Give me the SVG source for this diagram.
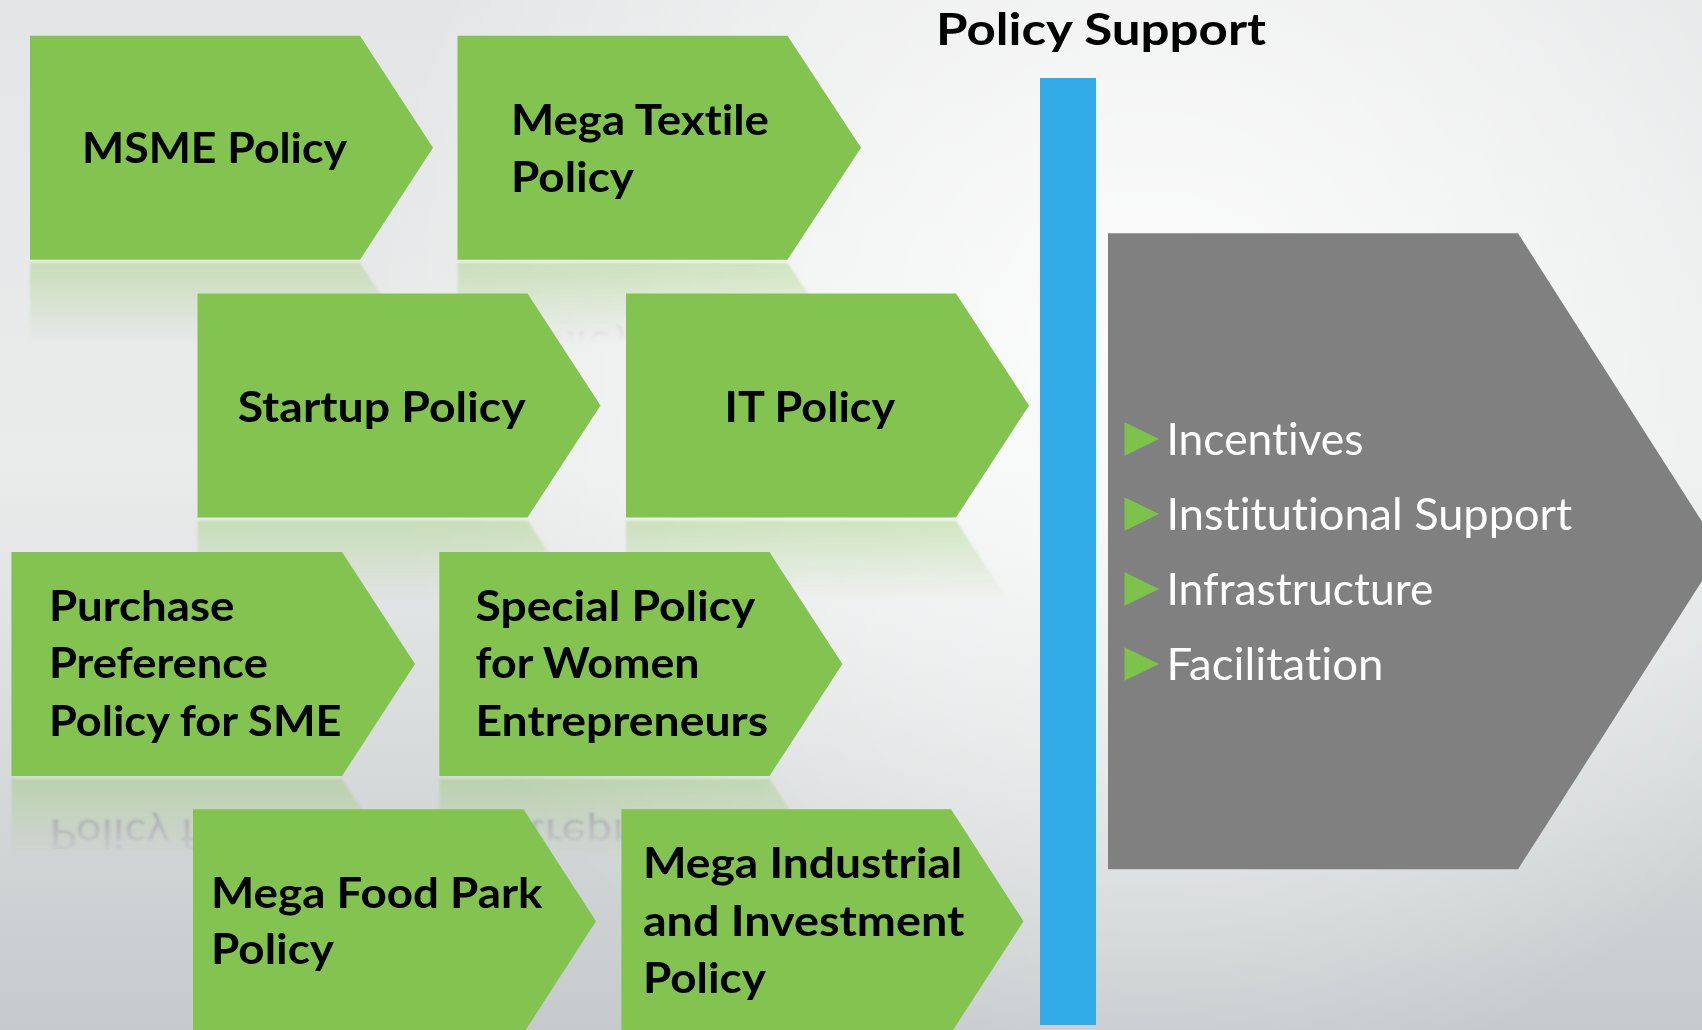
<svg xmlns="http://www.w3.org/2000/svg" xmlns:xlink="http://www.w3.org/1999/xlink" width="1702" height="1030" viewBox="0 0 1702 1030">
  <defs>
    <style>
      text { font-variant-ligatures: none; font-feature-settings: "liga" 0, "clig" 0; }
      .chev { fill: #83C350; }
      .lbl { font-family: Lato, "Liberation Sans", "DejaVu Sans", sans-serif; font-weight: 700; font-size: 42px; fill: #000000; }
      .title { font-family: Lato, "Liberation Sans", "DejaVu Sans", sans-serif; font-weight: 700; font-size: 44px; fill: #000000; }
      .item { font-family: Lato, "Liberation Sans", "DejaVu Sans", sans-serif; font-weight: 400; font-size: 44px; fill: #FFFFFF; }
      .bullet { fill: #7DC24B; }
    </style>
    <linearGradient id="bgLin" x1="0" y1="0" x2="0" y2="1">
      <stop offset="0" stop-color="#e4e5e6"/>
      <stop offset="0.45" stop-color="#eaecec"/>
      <stop offset="1" stop-color="#c6cacc"/>
    </linearGradient>
    <radialGradient id="bgRad" gradientUnits="userSpaceOnUse" cx="1150" cy="330" r="780">
      <stop offset="0" stop-color="#ffffff" stop-opacity="0.85"/>
      <stop offset="0.55" stop-color="#ffffff" stop-opacity="0.45"/>
      <stop offset="1" stop-color="#ffffff" stop-opacity="0"/>
    </radialGradient>
    <linearGradient id="fadeGrad" x1="0" y1="0" x2="0" y2="1">
      <stop offset="0" stop-color="#ffffff" stop-opacity="0.32"/>
      <stop offset="0.2" stop-color="#ffffff" stop-opacity="0.14"/>
      <stop offset="0.36" stop-color="#ffffff" stop-opacity="0"/>
    </linearGradient>
    <mask id="fade" maskContentUnits="objectBoundingBox">
      <rect x="0" y="0" width="1" height="1" fill="url(#fadeGrad)"/>
    </mask>
    <filter id="soft" x="-0.02" y="-0.02" width="1.04" height="1.04">
      <feGaussianBlur stdDeviation="0.8"/>
    </filter>
  </defs>

  <!-- background -->
  <rect x="0" y="0" width="1702" height="1030" fill="url(#bgLin)"/>
  <rect x="0" y="0" width="1702" height="1030" fill="url(#bgRad)"/>

  <!-- reflections -->
  <g id="reflections" filter="url(#soft)">
    <g mask="url(#fade)"><use xlink:href="#n-msme" href="#n-msme" transform="translate(0,522.4) scale(1,-1)"/></g>
    <g mask="url(#fade)"><use xlink:href="#n-textile" href="#n-textile" transform="translate(0,522.4) scale(1,-1)"/></g>
    <g mask="url(#fade)"><use xlink:href="#n-startup" href="#n-startup" transform="translate(0,1038) scale(1,-1)"/></g>
    <g mask="url(#fade)"><use xlink:href="#n-it" href="#n-it" transform="translate(0,1038) scale(1,-1)"/></g>
    <g mask="url(#fade)"><use xlink:href="#n-purchase" href="#n-purchase" transform="translate(0,1555) scale(1,-1)"/></g>
    <g mask="url(#fade)"><use xlink:href="#n-women" href="#n-women" transform="translate(0,1555) scale(1,-1)"/></g>
  </g>

  <!-- title -->
  <g id="title">
    <text class="title" x="936" y="45" textLength="330" lengthAdjust="spacingAndGlyphs">Policy Support</text>
  </g>

  <!-- row 1 -->
  <g id="n-msme">
    <polygon class="chev" points="30,35.7 360,35.7 433,147.7 360,259.7 30,259.7"/>
    <text class="lbl" x="82" y="163.3" textLength="265" lengthAdjust="spacingAndGlyphs">MSME Policy</text>
  </g>
  <g id="n-textile">
    <polygon class="chev" points="457.5,35.7 787.5,35.7 861,147.7 787.5,259.7 457.5,259.7"/>
    <text class="lbl" x="511" y="135" textLength="258" lengthAdjust="spacingAndGlyphs">Mega Textile</text>
    <text class="lbl" x="511" y="191.7" textLength="123" lengthAdjust="spacingAndGlyphs">Policy</text>
  </g>

  <!-- row 2 -->
  <g id="n-startup">
    <polygon class="chev" points="197.5,293.5 527.5,293.5 600.5,405.5 527.5,517.5 197.5,517.5"/>
    <text class="lbl" x="237.7" y="422" textLength="288" lengthAdjust="spacingAndGlyphs">Startup Policy</text>
  </g>
  <g id="n-it">
    <polygon class="chev" points="626,293.5 956,293.5 1029,405.5 956,517.5 626,517.5"/>
    <text class="lbl" x="724.6" y="422" textLength="170.7" lengthAdjust="spacingAndGlyphs">IT Policy</text>
  </g>

  <!-- row 3 -->
  <g id="n-purchase">
    <polygon class="chev" points="11.4,552 342,552 415,664 342,776 11.4,776"/>
    <text class="lbl" x="48.9" y="621" textLength="185.5" lengthAdjust="spacingAndGlyphs">Purchase</text>
    <text class="lbl" x="48.9" y="678.2" textLength="219" lengthAdjust="spacingAndGlyphs">Preference</text>
    <text class="lbl" x="48.9" y="736" textLength="292.6" lengthAdjust="spacingAndGlyphs">Policy for SME</text>
  </g>
  <g id="n-women">
    <polygon class="chev" points="439.3,552 769.5,552 842.4,664 769.5,776 439.3,776"/>
    <text class="lbl" x="475.5" y="621" textLength="280" lengthAdjust="spacingAndGlyphs">Special Policy</text>
    <text class="lbl" x="475.5" y="678.2" textLength="224" lengthAdjust="spacingAndGlyphs">for Women</text>
    <text class="lbl" x="475.5" y="736" textLength="292.6" lengthAdjust="spacingAndGlyphs">Entrepreneurs</text>
  </g>

  <!-- row 4 -->
  <g id="n-foodpark">
    <polygon class="chev" points="193,809.3 523.5,809.3 596,921.3 523.5,1033.3 193,1033.3"/>
    <text class="lbl" x="211" y="907.7" textLength="331.5" lengthAdjust="spacingAndGlyphs">Mega Food Park</text>
    <text class="lbl" x="211" y="964.3" textLength="123" lengthAdjust="spacingAndGlyphs">Policy</text>
  </g>
  <g id="n-industrial">
    <polygon class="chev" points="621.4,809.3 951,809.3 1023.5,921.3 951,1033.3 621.4,1033.3"/>
    <text class="lbl" x="642.9" y="878.3" textLength="319.4" lengthAdjust="spacingAndGlyphs">Mega Industrial</text>
    <text class="lbl" x="642.9" y="935.7" textLength="321.4" lengthAdjust="spacingAndGlyphs">and Investment</text>
    <text class="lbl" x="642.9" y="993.3" textLength="123" lengthAdjust="spacingAndGlyphs">Policy</text>
  </g>

  <!-- separator bar -->
  <g id="n-bar">
    <rect x="1040" y="78" width="56" height="947" fill="#32ABE9"/>
  </g>

  <!-- support box -->
  <g id="n-support">
    <polygon points="1108,233.3 1518,233.3 1721,551.3 1518,869.3 1108,869.3" fill="#808080"/>
    <polygon class="bullet" points="1124.5,422.3 1159,439 1124.5,455.7"/>
    <text class="item" x="1166.5" y="455" textLength="197" lengthAdjust="spacingAndGlyphs">Incentives</text>
    <polygon class="bullet" points="1124.5,497.3 1159,514 1124.5,530.7"/>
    <text class="item" x="1166.5" y="530" textLength="405.6" lengthAdjust="spacingAndGlyphs">Institutional Support</text>
    <polygon class="bullet" points="1124.5,572.3 1159,589 1124.5,605.7"/>
    <text class="item" x="1166.5" y="604.7" textLength="267" lengthAdjust="spacingAndGlyphs">Infrastructure</text>
    <polygon class="bullet" points="1124.5,647.3 1159,664 1124.5,680.7"/>
    <text class="item" x="1166.5" y="680" textLength="217" lengthAdjust="spacingAndGlyphs">Facilitation</text>
  </g>

  <g id="connectors"/>
</svg>
